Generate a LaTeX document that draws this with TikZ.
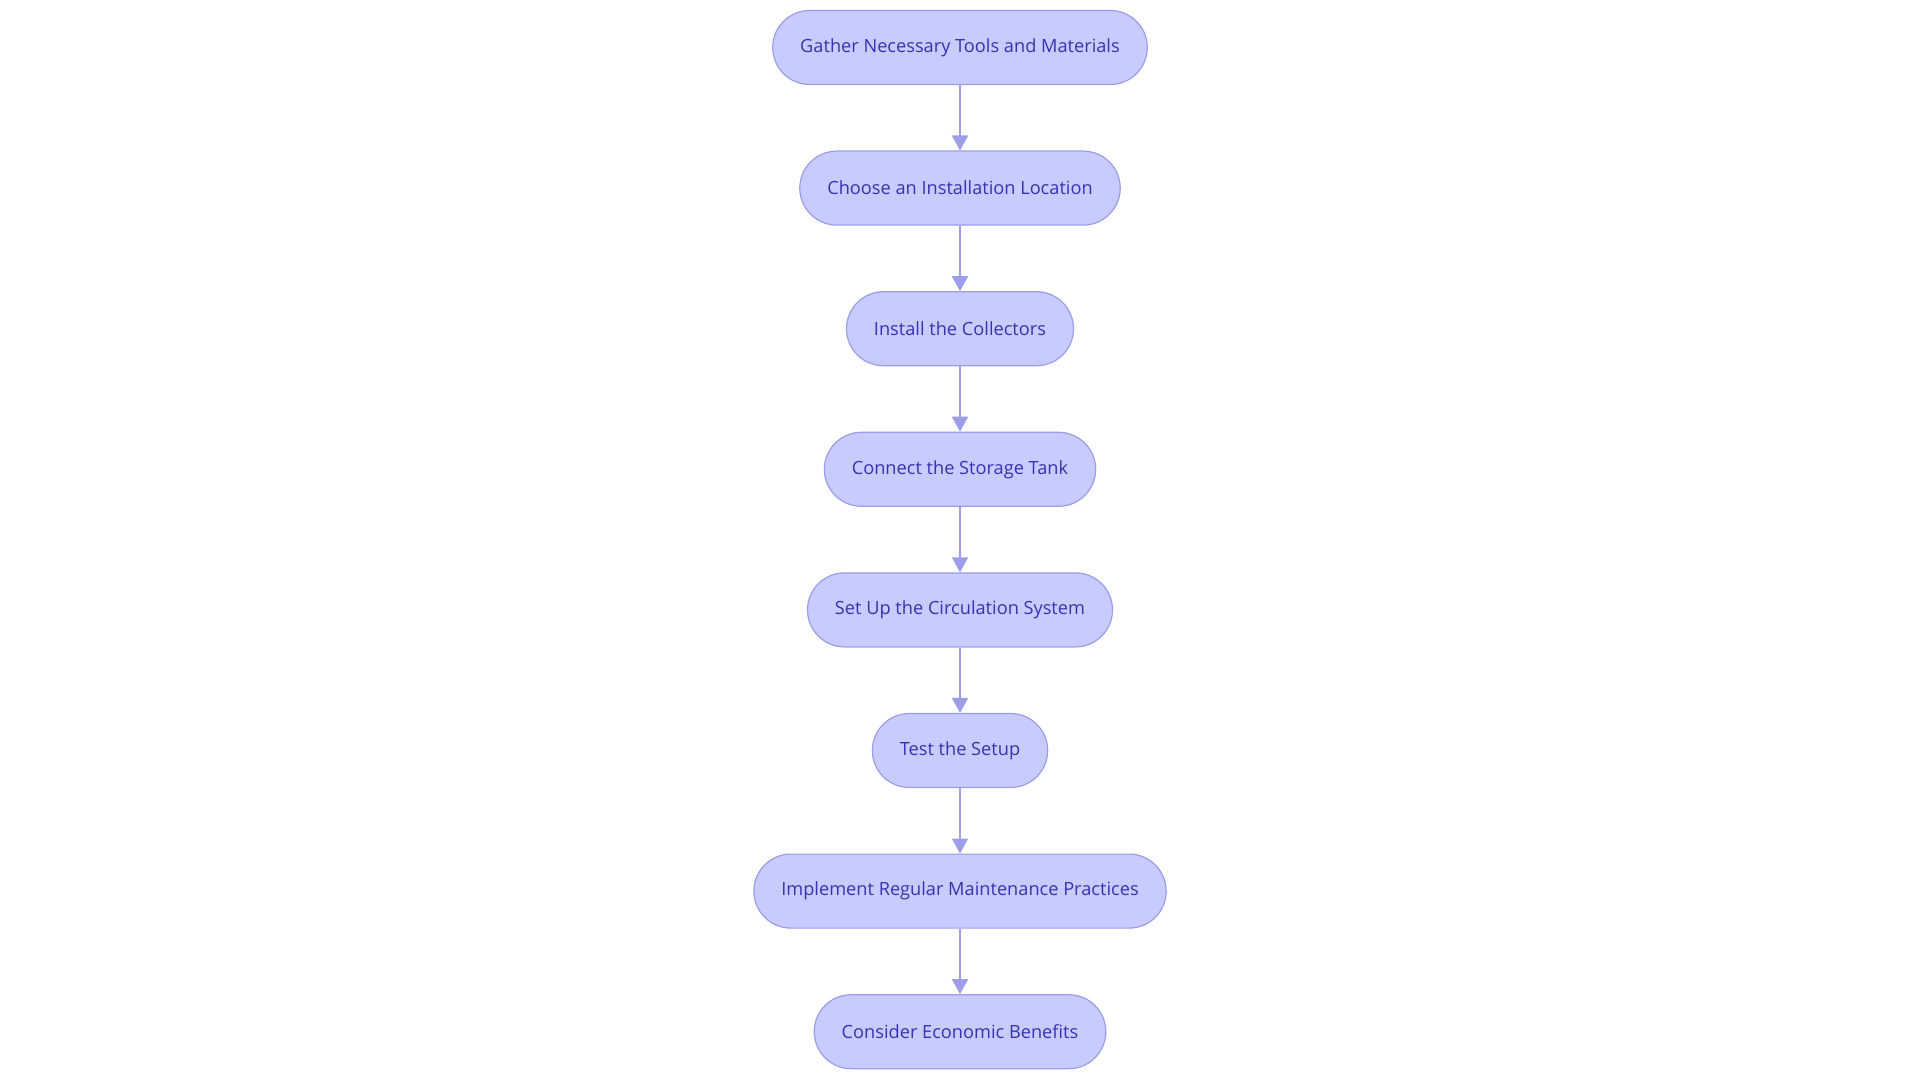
\documentclass[tikz,border=0pt]{standalone}
\usepackage{fontspec}
\setmainfont{Open Sans}
\usetikzlibrary{arrows.meta, positioning}
\definecolor{boxfill}{HTML}{C8CBFE}
\definecolor{boxline}{HTML}{9A9DE8}
\definecolor{boxtext}{HTML}{3434B2}
\definecolor{flowline}{HTML}{9C9FE8}
\begin{document}
\begin{tikzpicture}[x=1pt, y=1pt,
    node distance=65.4pt,
    stepbox/.style={draw=boxline, fill=boxfill, line width=1.2pt,
      rounded corners=37pt, minimum height=74pt, inner xsep=27.5pt,
      text=boxtext, font=\fontsize{18.2}{21}\selectfont},
    flow/.style={-{Triangle[length=15pt, width=16pt]}, draw=flowline,
      line width=2pt}
  ]
  \useasboundingbox (0,0) rectangle (1920,-1083);
  \node[stepbox] (tools) at (960,-47.5) {Gather Necessary Tools and Materials};
  \node[stepbox, below=of tools] (location) {Choose an Installation Location};
  \node[stepbox, below=of location] (collectors) {Install the Collectors};
  \node[stepbox, below=of collectors] (tank) {Connect the Storage Tank};
  \node[stepbox, below=of tank] (circulation) {Set Up the Circulation System};
  \node[stepbox, below=of circulation] (test) {Test the Setup};
  \node[stepbox, below=of test] (maintenance) {Implement Regular Maintenance Practices};
  \node[stepbox, below=of maintenance] (benefits) {Consider Economic Benefits};

  \foreach \a/\b in {tools/location, location/collectors, collectors/tank,
      tank/circulation, circulation/test, test/maintenance,
      maintenance/benefits}
    \draw[flow] (\a) -- (\b);
\end{tikzpicture}
\end{document}
